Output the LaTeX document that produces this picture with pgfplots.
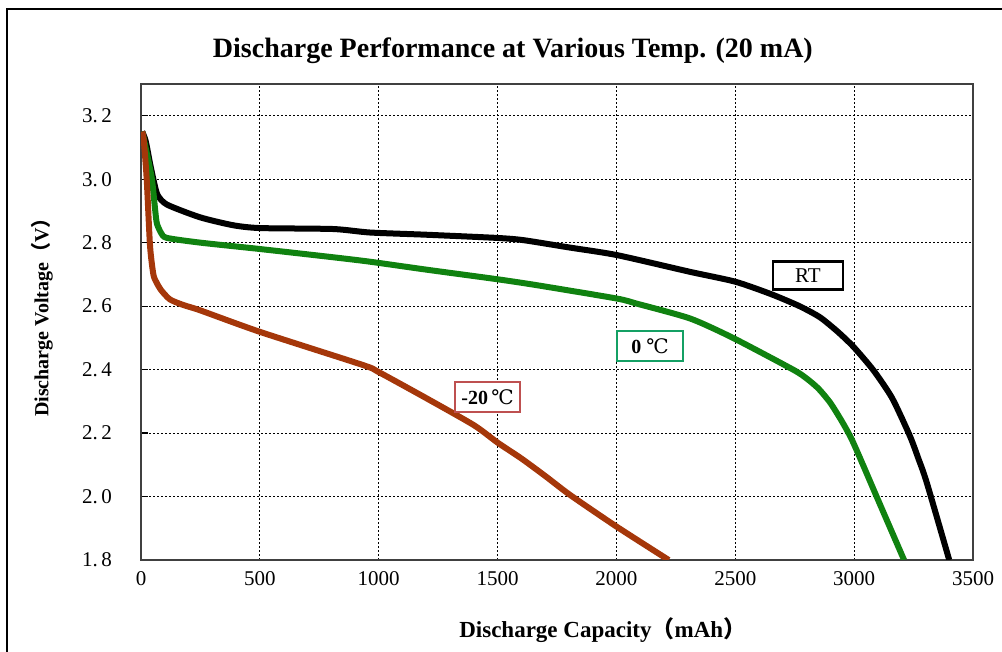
\documentclass[border=0pt]{standalone}
\usepackage{pgfplots}
\pgfplotsset{compat=1.18}
\usepackage{fontspec}
\setmainfont{Liberation Serif}
\newfontfamily\cjk{Noto Sans CJK SC}
\newfontfamily\symf{DejaVu Serif}

\definecolor{rtcol}{RGB}{0,0,0}
\definecolor{zerocol}{RGB}{16,130,16}
\definecolor{minuscol}{RGB}{165,55,10}
\definecolor{zerobox}{RGB}{20,160,100}
\definecolor{minusbox}{RGB}{190,80,80}

\newcommand{\degC}{{\symf ℃}}

\begin{document}
\begin{tikzpicture}[x=0.5pt,y=0.5pt]
\useasboundingbox (0,0) rectangle (1002,652);
% outer frame, cut off at right and bottom
\draw[line width=0.75pt] (7,0) -- (7,643) -- (1002,643);

\begin{axis}[
    at={(70.5pt,46pt)}, anchor=south west,
    scale only axis,
    width=416pt, height=238pt,
    xmin=0, xmax=3500,
    ymin=1.8, ymax=3.3,
    xtick={0,500,...,3500},
    ytick={1.8,2.0,...,3.21},
    yticklabels={1.\,8,2.\,0,2.\,2,2.\,4,2.\,6,2.\,8,3.\,0,3.\,2},
    scaled x ticks=false,
    /pgf/number format/1000 sep={},
    /pgf/number format/assume math mode=true,
    tick label style={font=\fontsize{10.5}{12}\selectfont},
    yticklabel style={xshift=-11pt},
    xticklabel style={yshift=-2pt},
    xtick style={draw=none},
    ytick pos=left,
    major tick length=3.5pt,
    ytick style={line width=0.6pt, black},
    axis line style={line width=0.8pt, black!75},
    grid=major,
    major grid style={line width=0.5pt, black, dash pattern=on 1.2pt off 0.8pt},
    title={Discharge Performance at Various Temp. (20 mA)},
    title style={at={(0.447,1)}, anchor=base, yshift=7pt, font=\bfseries\fontsize{14}{16}\selectfont},
    xlabel={Discharge Capacity{\cjk （}mAh{\cjk ）}},
    xlabel style={at={(0.555,0)}, anchor=center, yshift=-35pt, font=\bfseries\fontsize{11.5}{13}\selectfont},
    ylabel={Discharge Voltage{\cjk （}V{\cjk ）}},
    ylabel style={at={(0,0.52)}, anchor=center, yshift=49.5pt, font=\bfseries\fontsize{10}{11}\selectfont},
    clip=true,
]
% RT
\addplot[rtcol, line width=3pt, smooth, tension=0.4] coordinates {
(5,3.15)(20,3.12)(38,3.05)(55,2.99)(70,2.95)(109,2.92)(248,2.88)(387,2.855)
(500,2.846)(808,2.843)(963,2.832)(1200,2.825)(1496,2.815)(1608,2.808)
(1800,2.785)(2001,2.761)(2310,2.708)(2500,2.677)(2650,2.638)(2770,2.600)
(2856,2.565)(2930,2.52)(2997,2.472)(3081,2.398)(3160,2.31)(3235,2.19)
(3270,2.12)(3305,2.045)(3400,1.80)
};
% 0 C
\addplot[zerocol, line width=3pt, smooth, tension=0.4] coordinates {
(5,3.15)(25,3.08)(46,3.0)(60,2.9)(67,2.86)(85,2.83)(109,2.815)(250,2.80)
(500,2.78)(808,2.754)(963,2.74)(1200,2.715)(1496,2.685)(1665,2.666)
(2001,2.624)(2085,2.608)(2310,2.561)(2490,2.50)(2743,2.40)(2800,2.372)
(2850,2.34)(2900,2.295)(2950,2.235)(2990,2.18)(3040,2.095)(3095,1.999)(3210,1.80)
};
% -20 C
\addplot[minuscol, line width=3pt, smooth, tension=0.4] coordinates {
(5,3.15)(12,3.12)(24,3.0)(38,2.79)(52,2.70)(65,2.675)(85,2.65)(122,2.621)
(180,2.603)(248,2.587)(500,2.519)(935,2.414)(998,2.393)(1200,2.31)
(1400,2.225)(1500,2.17)(1600,2.12)(1700,2.065)(1805,2.005)(2001,1.905)(2220,1.80)
};

\node[draw=black, line width=1.4pt, fill=white, minimum width=35pt, minimum height=14pt, inner sep=1pt,
      font=\fontsize{10.5}{11}\selectfont] at (axis cs:2806,2.696) {RT};
\node[draw=zerobox, line width=1pt, fill=white, minimum width=33pt, minimum height=15pt, inner sep=1pt,
      font=\fontsize{10}{11}\selectfont] at (axis cs:2141,2.474) {\textbf{0}\ \degC};
\node[draw=minusbox, line width=1pt, fill=white, minimum width=32.5pt, minimum height=15pt, inner sep=1pt,
      font=\fontsize{10}{11}\selectfont] at (axis cs:1458,2.313) {\textbf{-20}\,\degC};
\end{axis}
\end{tikzpicture}
\end{document}
